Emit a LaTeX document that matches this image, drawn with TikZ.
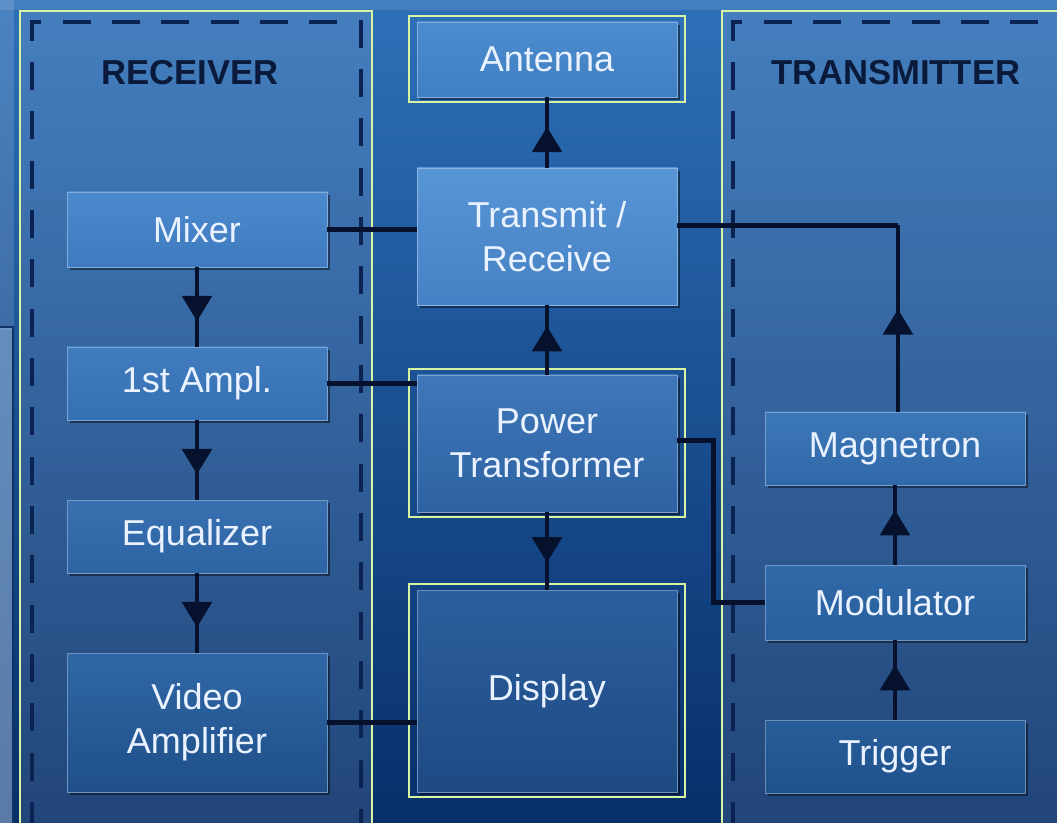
\documentclass[tikz,border=0pt]{standalone}
\usepackage{fontspec}
\setmainfont{Liberation Sans}
\usetikzlibrary{arrows.meta,decorations.markings,shadows,calc}
\definecolor{bgtop}{HTML}{2E70B8}
\definecolor{bgbot}{HTML}{072F6A}
\definecolor{navy}{HTML}{06112E}
\definecolor{dashcol}{HTML}{0A2352}
\definecolor{framegreen}{HTML}{D6F4A2}
\definecolor{txtcol}{HTML}{EAF2FF}
\definecolor{titlecol}{HTML}{0A1A3A}
\definecolor{mixT}{HTML}{4B89CD}\definecolor{mixB}{HTML}{3F7BBE}
\definecolor{ampT}{HTML}{417CBF}\definecolor{ampB}{HTML}{3570B2}
\definecolor{equT}{HTML}{3870B0}\definecolor{equB}{HTML}{2D64A3}
\definecolor{vidT}{HTML}{2F67A6}\definecolor{vidB}{HTML}{1F5089}
\definecolor{antT}{HTML}{4D8BCF}\definecolor{antB}{HTML}{417FC3}
\definecolor{trT}{HTML}{5895D5}\definecolor{trB}{HTML}{4581C4}
\definecolor{ptT}{HTML}{3F77B9}\definecolor{ptB}{HTML}{2E62A2}
\definecolor{disT}{HTML}{2C5F9E}\definecolor{disB}{HTML}{1D4A83}
\definecolor{magT}{HTML}{3C77B8}\definecolor{magB}{HTML}{3069A9}
\definecolor{modT}{HTML}{3169A9}\definecolor{modB}{HTML}{27609D}
\definecolor{trgT}{HTML}{285D9A}\definecolor{trgB}{HTML}{1F528D}
\begin{document}
\begin{tikzpicture}[x=0.75pt,y=-0.75pt,
  box/.style 2 args={rectangle, top color=#1, bottom color=#2, draw=#1!70!white, line width=0.6pt,
    minimum width=195pt, inner sep=0pt, align=center, text=txtcol,
    font=\fontsize{27}{33}\selectfont,
    drop shadow={shadow xshift=2pt, shadow yshift=-2.5pt, opacity=0.45, fill=black}},
  conn/.style={draw=navy, line width=3.4pt},
  midarrow/.style={postaction={decorate}, decoration={markings,
    mark=at position #1 with {\arrow{Triangle[width=22pt,length=19pt]}}}},
  frameline/.style={draw=framegreen, line width=1.6pt},
  dashline/.style={draw=dashcol, line width=3.4pt, dash pattern=on 21pt off 16pt},
  paneltitle/.style={text=titlecol, font=\bfseries\fontsize{26}{30}\selectfont}
]
\clip (0,0) rectangle (1057,823);
% background
\fill[top color=bgtop, bottom color=bgbot] (0,0) rectangle (1057,823);
\fill[color=white, opacity=0.1] (0,0) rectangle (1057,10);
\fill[color=white, opacity=0.14] (0,0) rectangle (14,330);
\fill[color=white!60!bgtop, opacity=0.5] (0,327) rectangle (13,823);
\draw[draw=dashcol!80!bgtop, line width=1.5pt] (0,327) -- (13,327) -- (13,823);
% panels
\fill[white, opacity=0.11] (20,11) rectangle (372,830);
\fill[white, opacity=0.11] (722,11) rectangle (1070,830);
\draw[frameline] (20,830) -- (20,11) -- (372,11) -- (372,830);
\draw[frameline] (722,830) -- (722,11) -- (1070,11);
\draw[dashline] (32,830) -- (32,22) -- (361,22) -- (361,830);
\draw[dashline] (733,830) -- (733,22) -- (1070,22);
\node[paneltitle] (rxt) at (190,73) {RECEIVER};
\node[paneltitle] (txt) at (896,73) {TRANSMITTER};

% receiver column
\node[box={mixT}{mixB}, minimum height=56.25pt] (mix) at (197,229.5) {Mixer};
\node[box={ampT}{ampB}, minimum height=54.75pt] (amp) at (197,383.5) {1st Ampl.};
\node[box={equT}{equB}, minimum height=54.75pt] (equ) at (197,536.5) {Equalizer};
\node[box={vidT}{vidB}, minimum height=104.25pt] (vid) at (197,722.5) {Video\\Amplifier};

% centre column
\node[box={antT}{antB}, minimum height=56.25pt] (ant) at (547,59.5) {Antenna};
\node[box={trT}{trB}, minimum height=102.75pt] (tr) at (547,236.5) {Transmit /\\Receive};
\node[box={ptT}{ptB}, minimum height=102.75pt] (pt) at (547,443.5) {Power\\Transformer};
\node[box={disT}{disB}, minimum height=151.5pt] (dis) at (547,691) {Display};
\foreach \n in {ant,pt,dis}
  \draw[frameline] ($(\n.north west)+(-8,-6)$) rectangle ($(\n.south east)+(8,5)$);

% transmitter column
\node[box={magT}{magB}, minimum height=54.75pt] (mag) at (895,448.5) {Magnetron};
\node[box={modT}{modB}, minimum height=56.25pt] (mod) at (895,602.5) {Modulator};
\node[box={trgT}{trgB}, minimum height=54.75pt] (trg) at (895,756.5) {Trigger};

% connectors: receiver chain
\draw[conn, midarrow=0.68] (mix.south) -- (amp.north);
\draw[conn, midarrow=0.68] (amp.south) -- (equ.north);
\draw[conn, midarrow=0.68] (equ.south) -- (vid.north);
\draw[conn] (mix.east) -- (mix.east -| tr.west);
\draw[conn] (amp.east) -- (amp.east -| pt.west);
\draw[conn] (vid.east) -- (vid.east -| dis.west);
% centre
\draw[conn, midarrow=0.58] (tr.north) -- (ant.south);
\draw[conn, midarrow=0.7] (pt.north) -- (tr.south);
\draw[conn, midarrow=0.65] (pt.south) -- (dis.north);
% transmitter
\draw[conn, midarrow=0.69] (trg.north) -- (mod.south);
\draw[conn, midarrow=0.69] (mod.north) -- (mag.south);
\coordinate (trc) at ($(mag.north |- tr.east)+(3,-11)$);
\draw[conn, midarrow=0.55] ($(mag.north)+(3,0)$) -- (trc);
\draw[conn] (trc) -- (tr.east |- trc);
\coordinate (ptm) at ($(pt.east)+(36,-3)$);
\draw[conn] ($(pt.east)+(0,-3)$) -- (ptm) |- (mod.west);
\end{tikzpicture}
\end{document}
